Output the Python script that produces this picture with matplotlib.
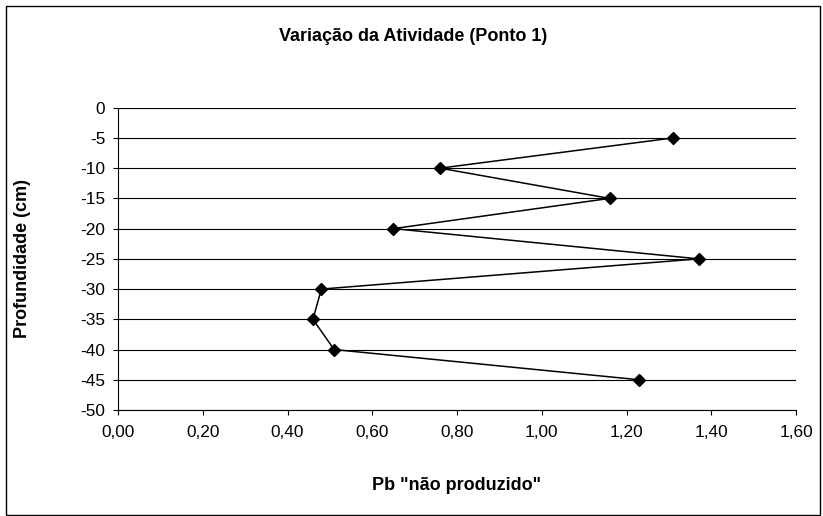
import matplotlib.pyplot as plt
from matplotlib.patches import Rectangle

# activity profile, point 1
depth = [-5, -10, -15, -20, -25, -30, -35, -40, -45]
pb_nao_produzido = [1.31, 0.76, 1.16, 0.65, 1.37, 0.48, 0.46, 0.51, 1.23]

x_ticks = [0.0, 0.2, 0.4, 0.6, 0.8, 1.0, 1.2, 1.4, 1.6]
x_tick_labels = ['0,00', '0,20', '0,40', '0,60', '0,80', '1,00', '1,20', '1,40', '1,60']
y_ticks = [0, -5, -10, -15, -20, -25, -30, -35, -40, -45, -50]
y_tick_labels = ['0', '-5', '-10', '-15', '-20', '-25', '-30', '-35', '-40', '-45', '-50']

plt.rcParams['font.family'] = ['Liberation Sans', 'DejaVu Sans']

W, H = 823, 516
fig = plt.figure(figsize=(W / 100, H / 100), dpi=100)
ax = fig.add_axes([118 / W, 1 - 410 / H, (796 - 118) / W, (410 - 107.7) / H])

for y in y_ticks:
    ax.axhline(y, color='black', lw=0.8, zorder=1)

ax.plot(pb_nao_produzido, depth, color='black', lw=1.1, marker='D',
        markersize=5.8, markerfacecolor='black', markeredgecolor='black', zorder=3)

ax.set_xlim(0, 1.6)
ax.set_ylim(-50, 0)
ax.set_xticks(x_ticks)
ax.set_xticklabels(x_tick_labels)
ax.set_yticks(y_ticks)
ax.set_yticklabels(y_tick_labels)
ax.tick_params(axis='both', direction='out', length=3.6, width=0.8, labelsize=12.4, color='black')
ax.tick_params(axis='x', pad=7)
ax.tick_params(axis='y', pad=5.5)

for side in ['top', 'right']:
    ax.spines[side].set_visible(False)
for side in ['left', 'bottom']:
    ax.spines[side].set_linewidth(0.8)
    ax.spines[side].set_color('black')

fig.text(413 / W, 1 - 40.7 / H, 'Variação da Atividade (Ponto 1)', ha='center', va='baseline',
         fontsize=13, fontweight='bold')
fig.text(457 / W, 1 - 490 / H, 'Pb "não produzido"', ha='center', va='baseline',
         fontsize=13, fontweight='bold')
fig.text(22.5 / W, 1 - 258 / H, 'Profundidade (cm)', ha='center', va='center', rotation=90,
         fontsize=13, fontweight='bold')

# frame around the whole chart
fig.patches.append(Rectangle((5.5 / W, 1.5 / H), 814.5 / W, 508.5 / H, transform=fig.transFigure,
                             fill=False, edgecolor='black', lw=1))

fig.savefig('out.png', dpi=100)
